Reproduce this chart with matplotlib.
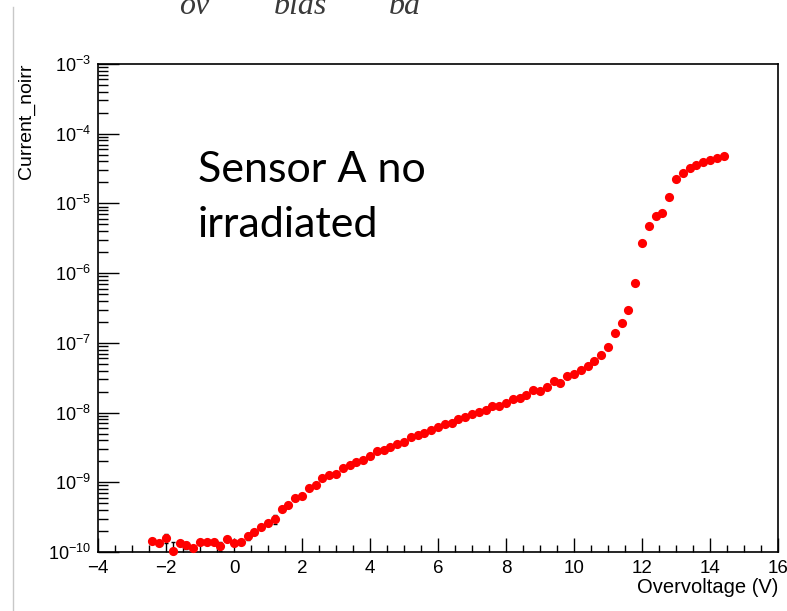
import numpy as np
import matplotlib
matplotlib.use("Agg")
import matplotlib.pyplot as plt
from matplotlib.ticker import MultipleLocator, LogLocator, LogFormatterMathtext, NullFormatter
from matplotlib.lines import Line2D

# ---- I-V scan, sensor A, not irradiated ----
overvoltage = [-2.4, -2.2, -2.0, -1.8, -1.6, -1.4, -1.2, -1.0, -0.8, -0.6,
               -0.4, -0.2, 0.0, 0.2, 0.4, 0.6, 0.8, 1.0, 1.2, 1.4,
               1.6, 1.8, 2.0, 2.2, 2.4, 2.6, 2.8, 3.0, 3.2, 3.4,
               3.6, 3.8, 4.0, 4.2, 4.4, 4.6, 4.8, 5.0, 5.2, 5.4,
               5.6, 5.8, 6.0, 6.2, 6.4, 6.6, 6.8, 7.0, 7.2, 7.4,
               7.6, 7.8, 8.0, 8.2, 8.4, 8.6, 8.8, 9.0, 9.2, 9.4,
               9.6, 9.8, 10.0, 10.2, 10.4, 10.6, 10.8, 11.0, 11.2, 11.4,
               11.6, 11.8, 12.0, 12.2, 12.4, 12.6, 12.8, 13.0, 13.2, 13.4,
               13.6, 13.8, 14.0, 14.2, 14.4]
current_noirr = [1.45e-10, 1.34e-10, 1.57e-10, 1.03e-10, 1.34e-10, 1.26e-10, 1.15e-10, 1.37e-10, 1.37e-10, 1.40e-10,
                 1.22e-10, 1.53e-10, 1.36e-10, 1.40e-10, 1.69e-10, 1.91e-10, 2.30e-10, 2.57e-10, 2.96e-10, 4.08e-10,
                 4.75e-10, 6.00e-10, 6.28e-10, 8.17e-10, 9.03e-10, 1.14e-9, 1.27e-9, 1.30e-9, 1.58e-9, 1.78e-9,
                 1.95e-9, 2.10e-9, 2.38e-9, 2.81e-9, 2.92e-9, 3.20e-9, 3.50e-9, 3.73e-9, 4.50e-9, 4.71e-9,
                 5.08e-9, 5.61e-9, 6.25e-9, 6.78e-9, 7.14e-9, 8.07e-9, 8.61e-9, 9.62e-9, 1.02e-8, 1.08e-8,
                 1.24e-8, 1.23e-8, 1.36e-8, 1.55e-8, 1.63e-8, 1.78e-8, 2.10e-8, 2.03e-8, 2.34e-8, 2.81e-8,
                 2.65e-8, 3.37e-8, 3.56e-8, 4.05e-8, 4.65e-8, 5.43e-8, 6.68e-8, 8.79e-8, 1.37e-7, 1.94e-7,
                 2.96e-7, 7.14e-7, 2.68e-6, 4.79e-6, 6.67e-6, 7.36e-6, 1.25e-5, 2.22e-5, 2.70e-5, 3.25e-5,
                 3.56e-5, 3.89e-5, 4.24e-5, 4.48e-5, 4.79e-5]
# only the low-current points have errors that stick out of the markers
err_v = [-2.0, -1.8, -1.4, -0.4, 0.4, 1.2]
err_i = [0.24e-10, 0.36e-10, 0.15e-10, 0.17e-10, 0.18e-10, 0.40e-10]

plt.rcParams.update({
    "font.family": ["Liberation Sans", "DejaVu Sans"],
    "mathtext.default": "regular",
    "xtick.direction": "in", "ytick.direction": "in",
    "xtick.top": False, "ytick.right": False,
})

W, H = 787, 611
fig = plt.figure(figsize=(W/100, H/100), dpi=100)
ax = fig.add_axes([98/W, 1-552/H, 680/W, 488/H])

ax.errorbar(err_v, [current_noirr[overvoltage.index(v)] for v in err_v], yerr=err_i,
            fmt="none", ecolor="black", elinewidth=1.0, capsize=1.5, zorder=2)
ax.plot(overvoltage, current_noirr, "o", color="#ff0000", ms=6.6, mec="none",
        clip_on=False, zorder=3)

ax.set_yscale("log")
ax.set_xlim(-4, 16)
ax.set_ylim(1e-10, 1e-3)

ax.xaxis.set_major_locator(MultipleLocator(2))
ax.xaxis.set_minor_locator(MultipleLocator(0.5))
ax.yaxis.set_major_locator(LogLocator(base=10, numticks=20))
ax.yaxis.set_minor_locator(LogLocator(base=10, subs=np.arange(2, 10), numticks=20))
ax.yaxis.set_major_formatter(LogFormatterMathtext())
ax.yaxis.set_minor_formatter(NullFormatter())

ax.tick_params(axis="x", which="major", length=10, width=1.0, labelsize=13.5, pad=6)
ax.tick_params(axis="x", which="minor", length=5, width=1.0)
ax.tick_params(axis="y", which="major", length=15, width=1.0, labelsize=13, pad=5)
ax.tick_params(axis="y", which="minor", length=7.5, width=1.0)
for s in ax.spines.values():
    s.set_linewidth(1.2)

ax.set_xlabel("Overvoltage (V)", fontsize=14.5, ha="right", va="top")
ax.xaxis.set_label_coords(1.0, -0.053)
ax.set_ylabel("Current_noirr", fontsize=14, rotation_mode="default", ha="center", va="top")
ax.yaxis.set_label_coords(-0.106, 1.002)

# slide annotation
fig.text(198/W, 1-182/H, "Sensor A no", fontsize=31, family="Lato", va="baseline")
fig.text(198/W, 1-237/H, "irradiated", fontsize=31, family="Lato", va="baseline")

# subscripts of V_ov = V_bias - V_bd, cut by the top edge
for xp, s in [(179, "ov"), (274, "bias"), (389, "bd")]:
    fig.text(xp/W, 1-14/H, s, fontsize=23, family="Liberation Serif", style="italic",
             color="#3a3a3a", va="baseline")

fig.add_artist(Line2D([13/W, 13/W], [0, 1-7/H], transform=fig.transFigure,
                      color="#c8c8c8", lw=1.0))

fig.savefig("out.png", dpi=100)
